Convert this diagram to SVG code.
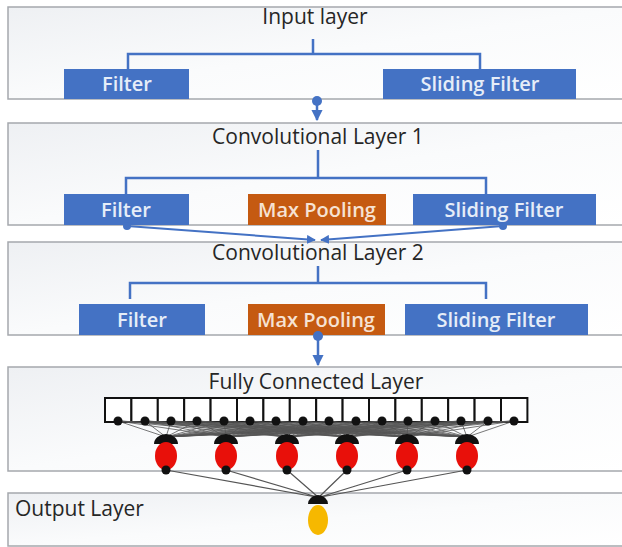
<svg xmlns="http://www.w3.org/2000/svg" width="622" height="547" viewBox="0 0 622 547">
<defs>
<linearGradient id="pg" x1="0" y1="0" x2="1" y2="1">
<stop offset="0" stop-color="#eef0f3"/>
<stop offset="0.5" stop-color="#fafbfc"/>
<stop offset="1" stop-color="#ffffff"/>
</linearGradient>
<marker id="ah" viewBox="0 0 10 10" refX="9" refY="5" markerWidth="4.5" markerHeight="4.5" orient="auto">
<path d="M0,0 L10,5 L0,10 z" fill="#4472c4"/>
</marker>
</defs>
<style>
.panel{fill:url(#pg);stroke:#a5a8ad;stroke-width:1.5}
.title{font-family:"Open Sans","Noto Sans",sans-serif;font-size:21px;fill:#262626;text-anchor:middle}
.blue{fill:#4472c4}
.orange{fill:#c55a11}
.bt{font-family:"Open Sans","Noto Sans",sans-serif;font-size:20px;font-weight:600;fill:#e6edf8;text-anchor:middle}
.br{fill:none;stroke:#4472c4;stroke-width:2.5}
.con{fill:none;stroke:#4472c4;stroke-width:2.5}
.fan{fill:none;stroke:#555;stroke-width:0.8}
.sq{fill:#fff;stroke:#111;stroke-width:2}
.dot{fill:#111}
.cap{fill:#111}
.neu{fill:#e8100a}
</style>

<g id="input-layer">
<rect class="panel" x="8" y="7" width="620" height="92"/>
<text class="title" x="315" y="24">Input layer</text>
<path class="br" d="M313,39 V54 M128,69 V54 H480 V69"/>
<g id="input-filter"><rect class="blue" x="64" y="69" width="125" height="30"/><text class="bt" x="127" y="91">Filter</text></g>
<g id="input-sliding"><rect class="blue" x="383" y="69" width="193" height="30"/><text class="bt" x="480" y="91">Sliding Filter</text></g>
</g>

<g id="conv1">
<rect class="panel" x="8" y="123" width="620" height="102"/>
<text class="title" x="318" y="144">Convolutional Layer 1</text>
<path class="br" d="M318,150 V178 M126,194 V178 H486 V194"/>
<g id="conv1-filter"><rect class="blue" x="64" y="194" width="125" height="31"/><text class="bt" x="126" y="217">Filter</text></g>
<g id="conv1-pool"><rect class="orange" x="248" y="194" width="138" height="31"/><text class="bt" x="317" y="217" style="fill:#f6e2d3">Max Pooling</text></g>
<g id="conv1-sliding"><rect class="blue" x="413" y="194" width="183" height="31"/><text class="bt" x="504" y="217">Sliding Filter</text></g>
</g>

<g id="conv2">
<rect class="panel" x="8" y="242" width="620" height="93"/>
<text class="title" x="318" y="260">Convolutional Layer 2</text>
<path class="br" d="M318,266 V283 M130,299 V283 H486 V299"/>
<g id="conv2-filter"><rect class="blue" x="79" y="304" width="126" height="31"/><text class="bt" x="142" y="327">Filter</text></g>
<g id="conv2-pool"><rect class="orange" x="248" y="304" width="137" height="31"/><text class="bt" x="316" y="327" style="fill:#f6e2d3">Max Pooling</text></g>
<g id="conv2-sliding"><rect class="blue" x="405" y="304" width="183" height="31"/><text class="bt" x="496" y="327">Sliding Filter</text></g>
</g>

<g id="fully-connected">
<rect class="panel" x="8" y="367" width="620" height="104"/>
<text class="title" x="316" y="389">Fully Connected Layer</text>
<g id="fc-squares">
<rect class="sq" x="105" y="398" width="26.4" height="24"/><rect class="sq" x="131.4" y="398" width="26.4" height="24"/><rect class="sq" x="157.8" y="398" width="26.4" height="24"/><rect class="sq" x="184.2" y="398" width="26.4" height="24"/><rect class="sq" x="210.6" y="398" width="26.4" height="24"/><rect class="sq" x="237" y="398" width="26.4" height="24"/><rect class="sq" x="263.4" y="398" width="26.4" height="24"/><rect class="sq" x="289.8" y="398" width="26.4" height="24"/><rect class="sq" x="316.2" y="398" width="26.4" height="24"/><rect class="sq" x="342.6" y="398" width="26.4" height="24"/><rect class="sq" x="369" y="398" width="26.4" height="24"/><rect class="sq" x="395.4" y="398" width="26.4" height="24"/><rect class="sq" x="421.8" y="398" width="26.4" height="24"/><rect class="sq" x="448.2" y="398" width="26.4" height="24"/><rect class="sq" x="474.6" y="398" width="26.4" height="24"/><rect class="sq" x="501" y="398" width="26.4" height="24"/>
</g>
</g>

<g id="output-layer">
<rect class="panel" x="8" y="493" width="620" height="53"/>
<text class="title" x="15" y="516" style="text-anchor:start">Output Layer</text>
</g>

<g id="connectors">
<circle cx="317" cy="101" r="5" fill="#4472c4"/>
<path class="con" d="M317,101 V120" marker-end="url(#ah)"/>
<circle cx="127" cy="226" r="4" fill="#4472c4"/>
<circle cx="503" cy="226" r="4" fill="#4472c4"/>
<path class="con" d="M127,226 L315,240" marker-end="url(#ah)" style="stroke-width:2"/>
<path class="con" d="M503,226 L321,240" marker-end="url(#ah)" style="stroke-width:2"/>
<circle cx="318" cy="336" r="5" fill="#4472c4"/>
<path class="con" d="M318,336 V365" marker-end="url(#ah)"/>

<g id="fc-fan">
<path class="fan" d="M118,421 L166,437 M145,421 L166,437 M171,421 L166,437 M197,421 L166,437 M224,421 L166,437 M250,421 L166,437 M276,421 L166,437 M303,421 L166,437 M329,421 L166,437 M356,421 L166,437 M382,421 L166,437 M408,421 L166,437 M435,421 L166,437 M461,421 L166,437 M488,421 L166,437 M514,421 L166,437"/>
<path class="fan" d="M118,421 L226,437 M145,421 L226,437 M171,421 L226,437 M197,421 L226,437 M224,421 L226,437 M250,421 L226,437 M276,421 L226,437 M303,421 L226,437 M329,421 L226,437 M356,421 L226,437 M382,421 L226,437 M408,421 L226,437 M435,421 L226,437 M461,421 L226,437 M488,421 L226,437 M514,421 L226,437"/>
<path class="fan" d="M118,421 L287,437 M145,421 L287,437 M171,421 L287,437 M197,421 L287,437 M224,421 L287,437 M250,421 L287,437 M276,421 L287,437 M303,421 L287,437 M329,421 L287,437 M356,421 L287,437 M382,421 L287,437 M408,421 L287,437 M435,421 L287,437 M461,421 L287,437 M488,421 L287,437 M514,421 L287,437"/>
<path class="fan" d="M118,421 L347,437 M145,421 L347,437 M171,421 L347,437 M197,421 L347,437 M224,421 L347,437 M250,421 L347,437 M276,421 L347,437 M303,421 L347,437 M329,421 L347,437 M356,421 L347,437 M382,421 L347,437 M408,421 L347,437 M435,421 L347,437 M461,421 L347,437 M488,421 L347,437 M514,421 L347,437"/>
<path class="fan" d="M118,421 L407,437 M145,421 L407,437 M171,421 L407,437 M197,421 L407,437 M224,421 L407,437 M250,421 L407,437 M276,421 L407,437 M303,421 L407,437 M329,421 L407,437 M356,421 L407,437 M382,421 L407,437 M408,421 L407,437 M435,421 L407,437 M461,421 L407,437 M488,421 L407,437 M514,421 L407,437"/>
<path class="fan" d="M118,421 L467,437 M145,421 L467,437 M171,421 L467,437 M197,421 L467,437 M224,421 L467,437 M250,421 L467,437 M276,421 L467,437 M303,421 L467,437 M329,421 L467,437 M356,421 L467,437 M382,421 L467,437 M408,421 L467,437 M435,421 L467,437 M461,421 L467,437 M488,421 L467,437 M514,421 L467,437"/>
</g>
<g id="fc-dots">
<circle class="dot" cx="118" cy="421" r="4.5"/><circle class="dot" cx="145" cy="421" r="4.5"/><circle class="dot" cx="171" cy="421" r="4.5"/><circle class="dot" cx="197" cy="421" r="4.5"/><circle class="dot" cx="224" cy="421" r="4.5"/><circle class="dot" cx="250" cy="421" r="4.5"/><circle class="dot" cx="276" cy="421" r="4.5"/><circle class="dot" cx="303" cy="421" r="4.5"/><circle class="dot" cx="329" cy="421" r="4.5"/><circle class="dot" cx="356" cy="421" r="4.5"/><circle class="dot" cx="382" cy="421" r="4.5"/><circle class="dot" cx="408" cy="421" r="4.5"/><circle class="dot" cx="435" cy="421" r="4.5"/><circle class="dot" cx="461" cy="421" r="4.5"/><circle class="dot" cx="488" cy="421" r="4.5"/><circle class="dot" cx="514" cy="421" r="4.5"/>
</g>
<g id="out-fan">
<path class="fan" d="M166,470 L316,497 M226,470 L317,497 M287,470 L318,497 M347,470 L319,497 M407,470 L320,497 M467,470 L321,497" style="stroke-width:1.2"/>
</g>
</g>

<g id="fc-neurons">
<g id="n1"><path class="cap" d="M154,444 A12,10 0 0 1 178,444 Z"/><ellipse class="neu" cx="166" cy="456" rx="11" ry="14"/><circle class="dot" cx="166" cy="470" r="4.5"/></g>
<g id="n2"><path class="cap" d="M214,444 A12,10 0 0 1 238,444 Z"/><ellipse class="neu" cx="226" cy="456" rx="11" ry="14"/><circle class="dot" cx="226" cy="470" r="4.5"/></g>
<g id="n3"><path class="cap" d="M275,444 A12,10 0 0 1 299,444 Z"/><ellipse class="neu" cx="287" cy="456" rx="11" ry="14"/><circle class="dot" cx="287" cy="470" r="4.5"/></g>
<g id="n4"><path class="cap" d="M335,444 A12,10 0 0 1 359,444 Z"/><ellipse class="neu" cx="347" cy="456" rx="11" ry="14"/><circle class="dot" cx="347" cy="470" r="4.5"/></g>
<g id="n5"><path class="cap" d="M395,444 A12,10 0 0 1 419,444 Z"/><ellipse class="neu" cx="407" cy="456" rx="11" ry="14"/><circle class="dot" cx="407" cy="470" r="4.5"/></g>
<g id="n6"><path class="cap" d="M455,444 A12,10 0 0 1 479,444 Z"/><ellipse class="neu" cx="467" cy="456" rx="11" ry="14"/><circle class="dot" cx="467" cy="470" r="4.5"/></g>
</g>

<g id="output-neuron">
<path class="cap" d="M308,504 A10,9 0 0 1 328,504 Z"/>
<ellipse cx="318" cy="520" rx="10" ry="15" fill="#f6b800"/>
</g>
</svg>
